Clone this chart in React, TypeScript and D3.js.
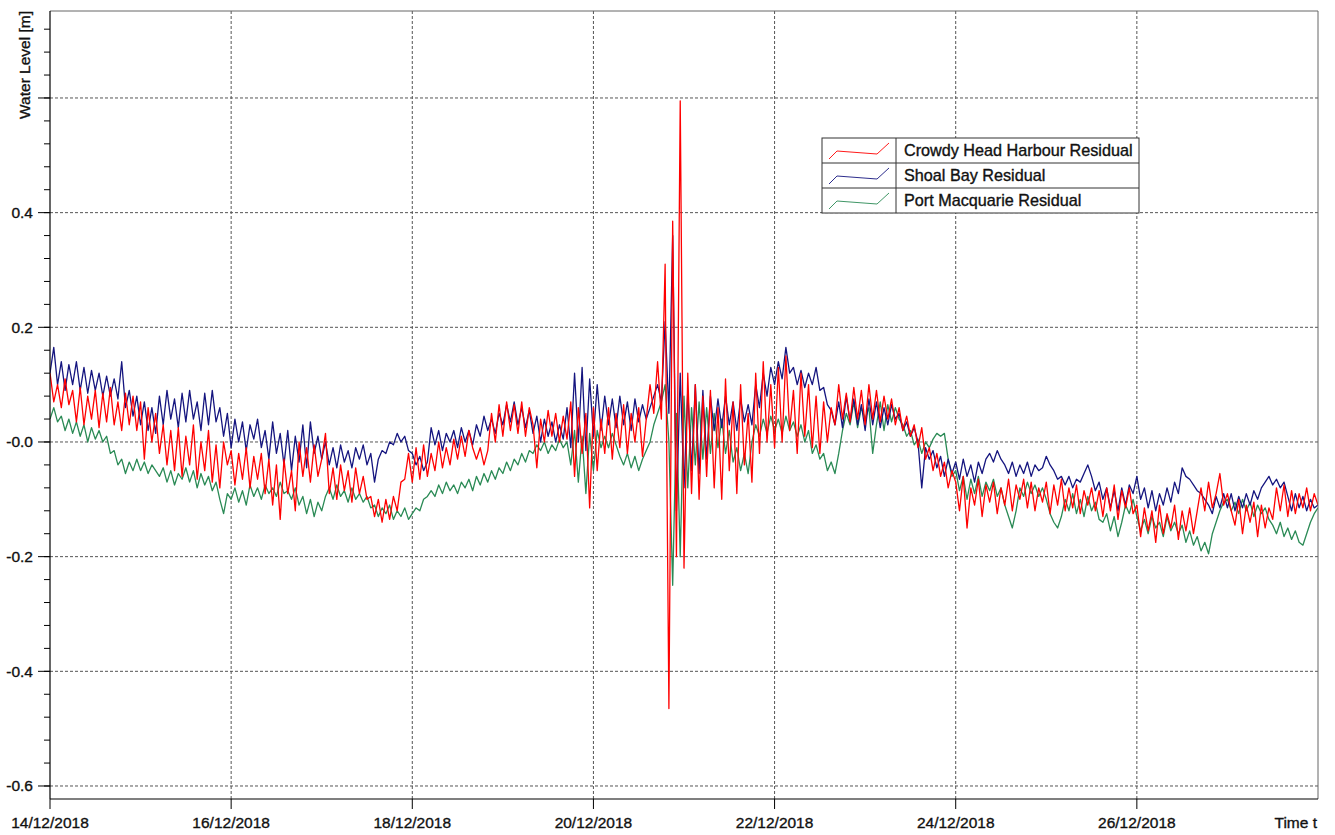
import React, { useEffect } from "react";
import * as d3 from "d3";

// Hourly residual water levels [m], one row per day starting 14/12/2018 00:00
const crowdyHead: number[][] = [
  [0.12, 0.07, 0.1, 0.06, 0.11, 0.065, 0.09, 0.035, 0.095, 0.03, 0.08, 0.04, 0.09, 0.025, 0.085, 0.035, 0.095, 0.03, 0.07, 0.02, 0.085, 0.03, 0.08, 0.02],
  [0.07, -0.03, 0.06, 0.0, 0.05, -0.02, 0.03, -0.04, 0.02, -0.05, 0.025, -0.06, 0.01, -0.04, 0.03, -0.065, 0.0, -0.05, 0.02, -0.07, -0.005, -0.08, 0.0, -0.04],
  [-0.015, -0.075, -0.02, -0.065, -0.01, -0.08, -0.025, -0.065, -0.02, -0.09, -0.03, -0.11, -0.04, -0.135, -0.03, -0.09, -0.05, -0.12, 0.0, -0.06, -0.01, -0.07, -0.005, -0.06],
  [-0.03, 0.015, -0.09, -0.045, -0.1, -0.04, -0.085, -0.05, -0.105, -0.045, -0.09, -0.06, -0.1, -0.095, -0.13, -0.1, -0.14, -0.1, -0.135, -0.095, -0.12, -0.07, -0.065, -0.02],
  [-0.07, -0.01, -0.065, -0.005, -0.06, -0.02, -0.05, 0.0, -0.045, -0.01, -0.04, 0.005, -0.03, 0.01, -0.025, 0.02, -0.01, -0.03, -0.01, -0.04, -0.015, 0.05, 0.0, 0.065],
  [0.01, 0.07, 0.02, 0.065, 0.015, 0.07, 0.01, 0.06, 0.03, -0.045, 0.04, 0.0, 0.055, 0.01, 0.05, 0.0, 0.045, 0.005, 0.07, -0.06, 0.06, -0.02, 0.05, -0.115],
  [0.06, -0.05, 0.04, -0.02, 0.06, -0.03, 0.05, -0.01, 0.065, -0.02, 0.05, 0.0, 0.06, -0.025, 0.04, 0.1, 0.05, 0.14, 0.04, 0.31, -0.465, 0.385, -0.2, 0.595],
  [-0.22, 0.12, -0.09, 0.1, -0.1, 0.08, -0.06, 0.09, -0.08, 0.06, -0.1, 0.11, -0.05, 0.07, -0.09, 0.1, -0.04, 0.05, -0.07, 0.12, -0.02, 0.14, 0.0, 0.1],
  [-0.01, 0.13, 0.0, 0.15, 0.02, 0.09, -0.02, 0.12, 0.01, 0.1, -0.01, 0.08, -0.02, 0.07, 0.0, 0.06, 0.03, 0.1, 0.04, 0.085, 0.035, 0.095, 0.04, 0.09],
  [0.03, 0.1, 0.04, 0.09, 0.035, 0.08, 0.04, 0.075, 0.03, 0.06, 0.02, 0.045, 0.01, 0.03, -0.01, 0.025, -0.03, -0.01, -0.05, -0.02, -0.06, -0.035, -0.08, -0.05],
  [-0.07, -0.12, -0.06, -0.15, -0.08, -0.11, -0.065, -0.13, -0.075, -0.105, -0.07, -0.125, -0.08, -0.11, -0.065, -0.12, -0.075, -0.1, -0.065, -0.115, -0.07, -0.12, -0.08, -0.105],
  [-0.07, -0.125, -0.075, -0.11, -0.065, -0.12, -0.08, -0.115, -0.075, -0.125, -0.085, -0.11, -0.08, -0.12, -0.085, -0.13, -0.08, -0.12, -0.075, -0.135, -0.085, -0.115, -0.08, -0.125],
  [-0.11, -0.165, -0.115, -0.155, -0.12, -0.175, -0.11, -0.16, -0.125, -0.15, -0.11, -0.17, -0.12, -0.155, -0.115, -0.16, -0.12, -0.08, -0.12, -0.07, -0.115, -0.09, -0.055, -0.11],
  [-0.09, -0.12, -0.145, -0.1, -0.16, -0.11, -0.14, -0.105, -0.165, -0.11, -0.15, -0.115, -0.135, -0.08, -0.12, -0.075, -0.13, -0.085, -0.125, -0.09, -0.115, -0.08, -0.12, -0.09, -0.11],
];

const shoalBay: number[][] = [
  [0.12, 0.165, 0.1, 0.14, 0.09, 0.135, 0.1, 0.14, 0.09, 0.13, 0.085, 0.125, 0.09, 0.12, 0.08, 0.115, 0.08, 0.11, 0.075, 0.14, 0.06, 0.09, 0.045, 0.08],
  [0.03, 0.07, 0.02, 0.06, 0.015, 0.08, 0.03, 0.09, 0.04, 0.075, 0.025, 0.085, 0.035, 0.09, 0.04, 0.07, 0.02, 0.085, 0.03, 0.09, 0.035, 0.06, 0.01, 0.05],
  [-0.01, 0.04, 0.0, 0.035, -0.015, 0.03, 0.005, 0.04, -0.01, 0.02, -0.03, 0.035, -0.02, 0.015, -0.04, 0.02, -0.05, 0.01, -0.035, 0.03, -0.045, 0.035, -0.02, 0.01],
  [-0.03, 0.0, -0.04, -0.01, -0.045, -0.005, -0.035, -0.015, -0.045, -0.01, -0.03, -0.005, -0.04, -0.02, -0.07, -0.03, -0.015, -0.02, 0.0, -0.005, 0.015, 0.0, 0.01, -0.015],
  [-0.02, -0.04, -0.025, -0.05, -0.035, 0.025, -0.005, 0.02, -0.015, 0.015, 0.0, 0.02, -0.01, 0.025, 0.0, 0.02, -0.005, 0.03, 0.01, 0.045, 0.02, 0.04, 0.015, 0.05],
  [0.03, 0.065, 0.035, 0.07, 0.03, 0.06, 0.025, 0.055, 0.015, 0.045, 0.0, 0.04, 0.01, 0.035, 0.0, 0.03, 0.005, 0.06, -0.01, 0.12, 0.0, 0.13, -0.015, 0.11],
  [0.01, 0.1, 0.02, 0.08, 0.03, 0.075, 0.025, 0.08, 0.03, 0.07, 0.02, 0.075, 0.035, 0.065, 0.04, 0.06, 0.08, 0.1, 0.07, 0.21, 0.05, 0.36, -0.12, 0.12],
  [-0.08, 0.09, -0.05, 0.1, -0.055, 0.09, -0.03, 0.08, 0.02, 0.075, 0.025, 0.08, 0.03, 0.07, 0.02, 0.075, 0.035, 0.065, 0.03, 0.1, 0.06, 0.12, 0.08, 0.13],
  [0.1, 0.14, 0.11, 0.165, 0.12, 0.13, 0.1, 0.125, 0.095, 0.12, 0.1, 0.13, 0.09, 0.095, 0.065, 0.055, 0.03, 0.07, 0.025, 0.08, 0.035, 0.075, 0.03, 0.065],
  [0.02, 0.075, 0.03, 0.07, 0.025, 0.06, 0.03, 0.065, 0.04, 0.05, 0.02, 0.035, 0.01, 0.025, 0.0, -0.08, -0.01, -0.03, -0.015, -0.045, -0.025, -0.06, -0.03, -0.055],
  [-0.035, -0.065, -0.03, -0.06, -0.04, -0.07, -0.035, -0.055, -0.03, -0.02, -0.035, -0.015, -0.03, -0.04, -0.055, -0.035, -0.06, -0.04, -0.055, -0.035, -0.06, -0.04, -0.05, -0.045],
  [-0.025, -0.04, -0.05, -0.065, -0.06, -0.075, -0.06, -0.08, -0.065, -0.07, -0.055, -0.04, -0.06, -0.085, -0.07, -0.1, -0.08, -0.115, -0.085, -0.12, -0.08, -0.11, -0.075, -0.09],
  [-0.06, -0.1, -0.08, -0.115, -0.085, -0.12, -0.09, -0.11, -0.08, -0.105, -0.07, -0.09, -0.045, -0.06, -0.065, -0.075, -0.085, -0.09, -0.1, -0.11, -0.125, -0.095, -0.115, -0.09],
  [-0.115, -0.09, -0.12, -0.095, -0.115, -0.09, -0.11, -0.085, -0.1, -0.08, -0.07, -0.06, -0.075, -0.065, -0.08, -0.07, -0.095, -0.12, -0.09, -0.115, -0.095, -0.12, -0.1, -0.115, -0.11],
];

const portMacquarie: number[][] = [
  [0.04, 0.06, 0.035, 0.045, 0.02, 0.04, 0.015, 0.035, 0.01, 0.03, 0.0, 0.025, 0.005, 0.02, 0.0, 0.01, -0.02, -0.015, -0.04, -0.03, -0.055, -0.035, -0.05, -0.03],
  [-0.05, -0.035, -0.055, -0.04, -0.05, -0.06, -0.045, -0.07, -0.05, -0.075, -0.055, -0.065, -0.045, -0.07, -0.05, -0.08, -0.055, -0.075, -0.06, -0.085, -0.07, -0.1, -0.125, -0.09],
  [-0.1, -0.08, -0.105, -0.085, -0.11, -0.075, -0.095, -0.08, -0.1, -0.075, -0.09, -0.08, -0.095, -0.07, -0.09, -0.085, -0.1, -0.08, -0.11, -0.095, -0.125, -0.1, -0.13, -0.105],
  [-0.12, -0.095, -0.08, -0.1, -0.075, -0.095, -0.085, -0.105, -0.08, -0.1, -0.09, -0.105, -0.095, -0.115, -0.11, -0.13, -0.115, -0.125, -0.11, -0.135, -0.12, -0.13, -0.115, -0.135],
  [-0.125, -0.115, -0.12, -0.1, -0.095, -0.085, -0.095, -0.075, -0.09, -0.07, -0.085, -0.075, -0.09, -0.07, -0.08, -0.065, -0.085, -0.06, -0.075, -0.055, -0.07, -0.05, -0.065, -0.045],
  [-0.055, -0.035, -0.05, -0.03, -0.04, -0.02, -0.035, -0.015, -0.02, -0.005, -0.015, 0.0, -0.02, -0.005, -0.015, 0.005, -0.01, 0.0, -0.04, 0.02, -0.07, 0.01, -0.09, 0.015],
  [-0.05, 0.02, -0.01, 0.01, -0.01, 0.015, -0.005, -0.025, -0.04, -0.02, -0.045, -0.025, -0.05, -0.03, -0.015, 0.0, 0.03, 0.05, 0.07, 0.1, 0.0, -0.25, 0.05, -0.2],
  [0.08, -0.08, 0.06, -0.04, 0.07, -0.03, 0.06, -0.02, 0.05, -0.01, 0.04, -0.02, 0.02, -0.035, -0.01, -0.05, -0.02, -0.055, 0.0, 0.03, 0.01, 0.04, 0.015, 0.045],
  [0.02, 0.04, 0.015, 0.045, 0.02, 0.035, 0.01, 0.03, 0.0, 0.02, -0.02, -0.005, -0.03, -0.02, -0.05, -0.035, -0.055, -0.02, 0.02, 0.05, 0.03, 0.07, 0.025, 0.06],
  [0.04, 0.06, -0.02, 0.03, 0.07, 0.02, 0.065, 0.035, 0.06, 0.04, 0.03, 0.01, 0.02, -0.005, 0.005, -0.02, 0.0, -0.01, 0.005, 0.015, 0.01, 0.015, -0.03, -0.06],
  [-0.05, -0.085, -0.06, -0.1, -0.065, -0.09, -0.06, -0.095, -0.07, -0.085, -0.065, -0.095, -0.08, -0.11, -0.13, -0.15, -0.12, -0.08, -0.095, -0.07, -0.09, -0.075, -0.095, -0.08],
  [-0.1, -0.125, -0.14, -0.15, -0.13, -0.1, -0.12, -0.09, -0.125, -0.1, -0.13, -0.095, -0.12, -0.105, -0.135, -0.14, -0.125, -0.155, -0.13, -0.165, -0.14, -0.11, -0.125, -0.1],
  [-0.13, -0.155, -0.135, -0.16, -0.13, -0.15, -0.14, -0.165, -0.13, -0.155, -0.14, -0.16, -0.145, -0.175, -0.155, -0.18, -0.165, -0.19, -0.175, -0.195, -0.16, -0.14, -0.12, -0.105],
  [-0.1, -0.12, -0.105, -0.125, -0.1, -0.12, -0.105, -0.13, -0.11, -0.125, -0.115, -0.135, -0.145, -0.16, -0.14, -0.165, -0.15, -0.17, -0.155, -0.175, -0.18, -0.16, -0.14, -0.125, -0.115],
];

const seriesNames = ["Crowdy Head Harbour Residual", "Shoal Bay Residual", "Port Macquarie Residual"];
const seriesColors = ["#ff0000", "#15157f", "#2a8a55"];

const yGridValues = [0.6, 0.4, 0.2, 0.0, -0.2, -0.4, -0.6];
const yTickLabels = ["", "0.4", "0.2", "-0.0", "-0.2", "-0.4", "-0.6"];
const xTickDays = [14, 16, 18, 20, 22, 24, 26];
const xTickLabels = ["14/12/2018", "16/12/2018", "18/12/2018", "20/12/2018", "22/12/2018", "24/12/2018", "26/12/2018"];

const W = 1335;
const H = 835;
const left = 50, right = 1318, top = 11, bottom = 799;
const FONT = "'Liberation Sans', Arial, sans-serif";
const textStyle = { fontFamily: FONT, fill: "#111", stroke: "#111", strokeWidth: 0.35 };

const x = d3.scaleTime().domain([new Date(2018, 11, 14), new Date(2018, 11, 28)]).range([left, right]);
const y = d3.scaleLinear().domain([-0.6227, 0.7517]).range([bottom, top]);

type Pt = { t: Date; v: number };
function toPoints(rows: number[][]): Pt[] {
  return rows.flatMap((row, d) => row.map((v, i) => ({ t: new Date(2018, 11, 14, d * 24 + i), v })));
}

const lineGen = d3.line<Pt>().x((p) => x(p.t)).y((p) => y(p.v));

export default function App() {
  useEffect(() => {
    document.body.style.margin = "0";
  }, []);
  const data = [crowdyHead, shoalBay, portMacquarie].map(toPoints);
  const drawOrder = [2, 1, 0];
  const minorTicks = d3.range(-0.6, 0.7401, 0.04).map((v) => Math.round(v * 100) / 100);

  const lg = { x0: 822, x1: 1139, y0: 138, rowH: 25, split: 896 };

  return (
    <svg width={W} height={H} style={{ position: "absolute", left: 0, top: 0, background: "#fff" }}>
      <defs>
        <clipPath id="plotClip">
          <rect x={left} y={top} width={right - left} height={bottom - top} />
        </clipPath>
      </defs>
      <rect x={0} y={0} width={W} height={H} fill="#fff" />
      {yGridValues.map((v) => (
        <line key={"hg" + v} x1={left} x2={right} y1={y(v)} y2={y(v)} stroke="#555" strokeWidth={1} strokeDasharray="3,2" />
      ))}
      {xTickDays.slice(1).map((d) => (
        <line key={"vg" + d} x1={x(new Date(2018, 11, d))} x2={x(new Date(2018, 11, d))} y1={top} y2={bottom} stroke="#555" strokeWidth={1} strokeDasharray="3,2" />
      ))}
      <g clipPath="url(#plotClip)">
        {drawOrder.map((i) => (
          <path key={"s" + i} d={lineGen(data[i]) || ""} fill="none" stroke={seriesColors[i]} strokeWidth={1.3} strokeLinejoin="round" />
        ))}
      </g>
      <line x1={left} x2={right} y1={top} y2={top} stroke="#666" strokeWidth={1} />
      <line x1={right} x2={right} y1={top} y2={bottom} stroke="#666" strokeWidth={1} />
      <line x1={left} x2={left} y1={top} y2={bottom} stroke="#000" strokeWidth={1.2} />
      <line x1={left} x2={right} y1={bottom} y2={bottom} stroke="#000" strokeWidth={1.2} />
      {minorTicks.map((v) => (
        <line key={"mt" + v} x1={left - 6} x2={left} y1={y(v)} y2={y(v)} stroke="#000" strokeWidth={1} />
      ))}
      {yGridValues.map((v, i) => (
        <g key={"yt" + v}>
          <line x1={left - 12} x2={left} y1={y(v)} y2={y(v)} stroke="#000" strokeWidth={1} />
          <text x={33} y={y(v)} dy="0.35em" textAnchor="end" fontSize={15.5} {...textStyle}>
            {yTickLabels[i]}
          </text>
        </g>
      ))}
      {xTickDays.map((d, i) => {
        const px = x(new Date(2018, 11, d));
        return (
          <g key={"xt" + d}>
            <line x1={px} x2={px} y1={bottom} y2={bottom + 10} stroke="#000" strokeWidth={1} />
            <text x={px} y={823} dy="0.35em" textAnchor="middle" fontSize={15.5} {...textStyle}>
              {xTickLabels[i]}
            </text>
          </g>
        );
      })}
      <text x={1317} y={823} dy="0.35em" textAnchor="end" fontSize={15.5} {...textStyle}>
        Time t
      </text>
      <text transform="translate(30,11) rotate(-90)" textAnchor="end" fontSize={15.5} {...textStyle}>
        Water Level [m]
      </text>
      <g>
        <rect x={lg.x0} y={lg.y0} width={lg.x1 - lg.x0} height={lg.rowH * 3} fill="#fff" stroke="#333" strokeWidth={1} />
        <line x1={lg.split} x2={lg.split} y1={lg.y0} y2={lg.y0 + lg.rowH * 3} stroke="#333" strokeWidth={1} />
        {[1, 2].map((r) => (
          <line key={"lr" + r} x1={lg.x0} x2={lg.x1} y1={lg.y0 + r * lg.rowH} y2={lg.y0 + r * lg.rowH} stroke="#333" strokeWidth={1} />
        ))}
        {seriesNames.map((name, i) => {
          const ry = lg.y0 + i * lg.rowH;
          const pts: [number, number][] = [
            [lg.x0 + 7, ry + 21],
            [lg.x0 + 15, ry + 13],
            [lg.x0 + 55, ry + 16],
            [lg.x0 + 67, ry + 5],
          ];
          return (
            <g key={"lg" + i}>
              <path d={d3.line()(pts) || ""} fill="none" stroke={seriesColors[i]} strokeWidth={0.9} />
              <text x={904} y={ry + lg.rowH / 2} dy="0.35em" fontSize={16.2} {...textStyle}>
                {name}
              </text>
            </g>
          );
        })}
      </g>
    </svg>
  );
}
